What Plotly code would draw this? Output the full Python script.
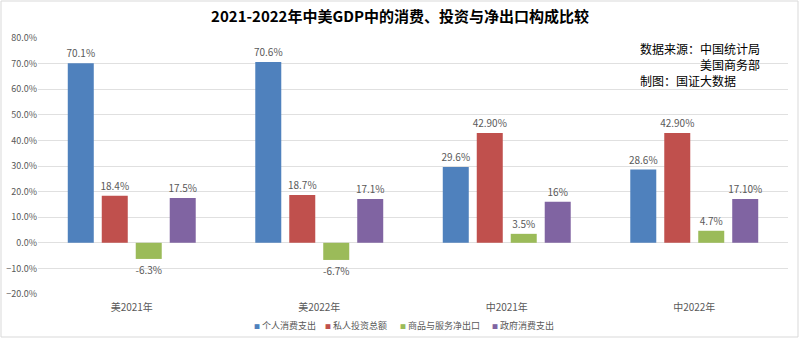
import plotly.graph_objects as go

categories = ["美2021年", "美2022年", "中2021年", "中2022年"]
series_names = ["个人消费支出", "私人投资总额", "商品与服务净出口", "政府消费支出"]
personal = [70.1, 70.6, 29.6, 28.6]
personal_lbl = ["70.1%", "70.6%", "29.6%", "28.6%"]
invest = [18.4, 18.7, 42.9, 42.9]
invest_lbl = ["18.4%", "18.7%", "42.90%", "42.90%"]
netexp = [-6.3, -6.7, 3.5, 4.7]
netexp_lbl = ["-6.3%", "-6.7%", "3.5%", "4.7%"]
gov = [17.5, 17.1, 16, 17.1]
gov_lbl = ["17.5%", "17.1%", "16%", "17.10%"]
colors = ["#4F81BD", "#C0504D", "#9BBB59", "#8064A2"]

FONT = "Noto Sans CJK SC, Microsoft YaHei, sans-serif"

# plot area geometry (pixels): left 38, right 788, top 38, bottom 294
L, R, T, B = 38, 12, 38, 46
PW, PH = 800 - L - R, 340 - T - B


def px_x(p):
    return (p - L) / PW


def px_y(p):
    return 1 - (p - T) / PH


fig = go.Figure()
for name, vals, lbls, c in zip(series_names, [personal, invest, netexp, gov],
                                [personal_lbl, invest_lbl, netexp_lbl, gov_lbl], colors):
    fig.add_trace(go.Bar(
        x=categories, y=vals, name=name, marker=dict(color=c, line=dict(width=0)),
        text=lbls, textposition="outside", cliponaxis=False, constraintext="none",
        textfont=dict(size=10, color="#595959", family=FONT), showlegend=False,
    ))

fig.update_layout(
    width=800, height=340,
    margin=dict(l=L, r=R, t=T, b=B, autoexpand=False),
    paper_bgcolor="white", plot_bgcolor="white",
    barmode="group", bargap=0.275, bargroupgap=0.235,
    font=dict(family=FONT, size=10, color="#595959"),
    title=dict(text="<b>2021-2022年中美GDP中的消费、投资与净出口构成比较</b>",
               x=0.5, xanchor="center", y=0.95, yanchor="middle",
               font=dict(size=15, color="#000000", family=FONT)),
    xaxis=dict(showline=False, ticks="", tickfont=dict(size=10, color="#595959"),
               showgrid=False, automargin=False, ticklabelstandoff=6),
    yaxis=dict(range=[-20, 80], dtick=10, tickformat=".1f", ticksuffix="%",
               showgrid=True, gridcolor="#E0E0E0", gridwidth=1, zeroline=False,
               tickfont=dict(size=9, color="#595959"), ticks="", automargin=False),
)

# source notes
fig.add_annotation(xref="paper", yref="paper", x=px_x(638), y=px_y(56.5), xanchor="left",
                   yanchor="middle", align="right", showarrow=False,
                   text="数据来源：中国统计局<br>美国商务部",
                   font=dict(size=12, color="#000000", family=FONT))
fig.add_annotation(xref="paper", yref="paper", x=px_x(638), y=px_y(80), xanchor="left",
                   yanchor="middle", showarrow=False, text="制图：国证大数据",
                   font=dict(size=12, color="#000000", family=FONT))

# legend (built from series names and colours)
legend_x = [252, 323, 398, 490]
for name, c, lx in zip(series_names, colors, legend_x):
    fig.add_annotation(xref="paper", yref="paper", x=px_x(lx), y=px_y(325), xanchor="left",
                       yanchor="middle", showarrow=False,
                       text=f"<span style='color:{c};font-size:6px'>■</span> {name}",
                       font=dict(size=9, color="#595959", family=FONT))

fig.add_shape(type="rect", xref="paper", yref="paper", x0=px_x(1), x1=px_x(798),
              y0=px_y(337), y1=px_y(1), line=dict(color="#D9D9D9", width=1), layer="below")

fig.write_html("out.html")
